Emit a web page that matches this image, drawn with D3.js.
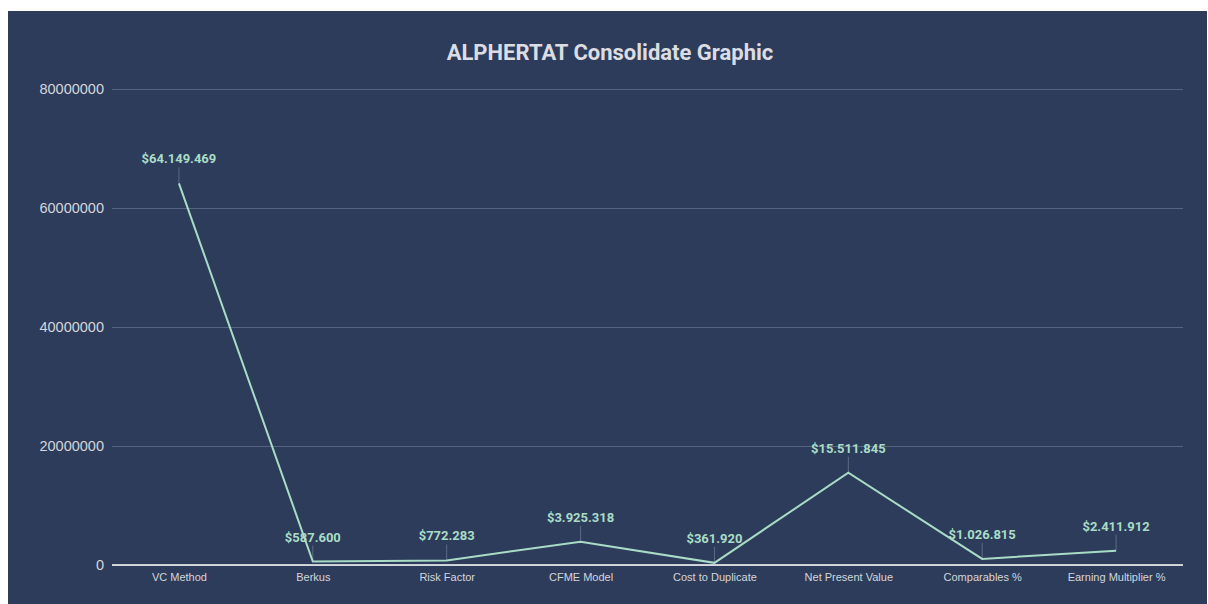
<!DOCTYPE html>
<html>
<head>
<meta charset="utf-8">
<script src="https://cdn.jsdelivr.net/npm/d3@7"></script>
<style>
  body { margin: 0; background: #fff; }
  svg { display: block; font-family: Roboto, "Noto Sans", sans-serif; }
</style>
</head>
<body>
<div id="chart"></div>
<script>
// chart data
const categories = ['VC Method', 'Berkus', 'Risk Factor', 'CFME Model', 'Cost to Duplicate', 'Net Present Value', 'Comparables %', 'Earning Multiplier %'];
const values = [64149469, 587600, 772283, 3925318, 361920, 15511845, 1026815, 2411912];
const valueLabels = ['$64.149.469', '$587.600', '$772.283', '$3.925.318', '$361.920', '$15.511.845', '$1.026.815', '$2.411.912'];
const yTicks = [0, 20000000, 40000000, 60000000, 80000000];

const width = 1208;
const height = 604;
const margin = { top: 89, right: 25, bottom: 39, left: 112 };

const svg = d3.select('#chart').append('svg')
    .attr('width', width)
    .attr('height', height);

// panel background
svg.append('rect')
    .attr('x', 8)
    .attr('y', 11)
    .attr('width', 1199)
    .attr('height', height - 11)
    .style('fill', '#2d3c5a');

svg.append('text')
    .attr('x', 610)
    .attr('y', 60)
    .attr('text-anchor', 'middle')
    .style('font-size', '22px')
    .style('font-weight', 'bold')
    .style('fill', '#dcdde2')
    .text('ALPHERTAT Consolidate Graphic');

const x = d3.scalePoint()
    .domain(categories)
    .range([margin.left, width - margin.right])
    .padding(0.5);

const y = d3.scaleLinear()
    .domain([0, 80000000])
    .range([height - margin.bottom, margin.top]);

// grid lines + y labels
const yAxis = svg.append('g')
    .attr('transform', `translate(${margin.left},0)`)
    .call(d3.axisLeft(y).tickValues(yTicks).tickFormat(d3.format('d'))
        .tickSize(-(width - margin.left - margin.right)).tickPadding(8));
yAxis.select('.domain').remove();
yAxis.selectAll('line').style('stroke', '#56647f').style('stroke-width', 1);
yAxis.selectAll('text').style('fill', '#d4d6dc').style('font-size', '14.5px');

// baseline
svg.append('line')
    .attr('x1', margin.left)
    .attr('x2', width - margin.right)
    .attr('y1', y(0))
    .attr('y2', y(0))
    .style('stroke', '#ffffff')
    .style('stroke-width', 1.5);

// x labels
const xAxis = svg.append('g')
    .attr('transform', `translate(0,${y(0)})`)
    .call(d3.axisBottom(x).tickSize(0).tickPadding(8));
xAxis.select('.domain').remove();
xAxis.selectAll('text').style('fill', '#d4d6dc').style('font-size', '11px');

// leader lines
svg.append('g').selectAll('line')
    .data(values)
    .join('line')
    .attr('x1', (d, i) => x(categories[i]))
    .attr('x2', (d, i) => x(categories[i]))
    .attr('y1', d => y(d))
    .attr('y2', d => y(d) - 16)
    .style('stroke', '#5c6b86')
    .style('stroke-width', 1);

// series line
const line = d3.line()
    .x((d, i) => x(categories[i]))
    .y(d => y(d));

svg.append('path')
    .datum(values)
    .attr('d', line)
    .style('fill', 'none')
    .style('stroke', '#a9dcc6')
    .style('stroke-width', 2);

// value labels
svg.append('g').selectAll('text')
    .data(values)
    .join('text')
    .attr('x', (d, i) => x(categories[i]))
    .attr('y', d => y(d) - 20)
    .attr('text-anchor', 'middle')
    .style('font-size', '13px')
    .style('font-weight', 'bold')
    .style('fill', '#a9dcc6')
    .text((d, i) => valueLabels[i]);
</script>
</body>
</html>
